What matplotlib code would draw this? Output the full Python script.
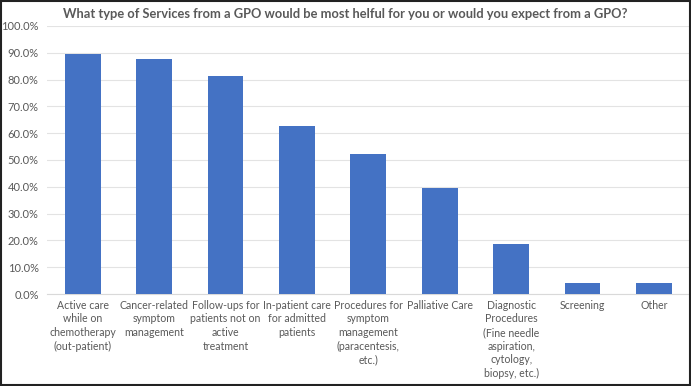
import numpy as np
import matplotlib.pyplot as plt
from matplotlib.ticker import PercentFormatter
from matplotlib.patches import Rectangle

categories = [
    "Active care\nwhile on\nchemotherapy\n(out-patient)",
    "Cancer-related\nsymptom\nmanagement",
    "Follow-ups for\npatients not on\nactive\ntreatment",
    "In-patient care\nfor admitted\npatients",
    "Procedures for\nsymptom\nmanagement\n(paracentesis,\netc.)",
    "Palliative Care",
    "Diagnostic\nProcedures\n(Fine needle\naspiration,\ncytology,\nbiopsy, etc.)",
    "Screening",
    "Other",
]
values = [0.896, 0.875, 0.8125, 0.625, 0.521, 0.396, 0.1875, 0.042, 0.042]
title = "What type of Services from a GPO would be most helful for you or would you expect from a GPO?"

plt.rcParams['font.family'] = ['Lato', 'DejaVu Sans']
text_color = '#595959'

fig = plt.figure(figsize=(6.91, 3.86), dpi=100)
ax = fig.add_axes([0.068, 0.238, 0.93, 0.695])

x = np.arange(len(categories))
ax.bar(x, values, width=0.5, color='#4472C4', zorder=3)

ax.set_xlim(-0.5, len(categories) - 0.5)
ax.set_ylim(0, 1.0)
ax.set_yticks(np.arange(0, 1.01, 0.1))
ax.yaxis.set_major_formatter(PercentFormatter(1.0, decimals=1))
ax.grid(axis='y', color='#e3e3e3', linewidth=0.8, zorder=0)

ax.set_xticks(x)
ax.set_xticklabels(categories, fontsize=7.6, color=text_color, linespacing=1.3,
                   verticalalignment='top')
ax.tick_params(axis='y', labelsize=8, labelcolor=text_color, length=0, pad=6)
ax.tick_params(axis='x', length=0, pad=4)

for side in ['top', 'right', 'left']:
    ax.spines[side].set_visible(False)
ax.spines['bottom'].set_color('#d9d9d9')

fig.text(0.5, 0.965, title, ha='center', va='center', fontsize=9.3,
         fontweight='bold', color=text_color)

fig.patches.append(Rectangle((0.002, 0.003), 0.996, 0.994, transform=fig.transFigure,
                             fill=False, edgecolor='#222222', linewidth=1.5))

fig.savefig('out.png', dpi=100)
